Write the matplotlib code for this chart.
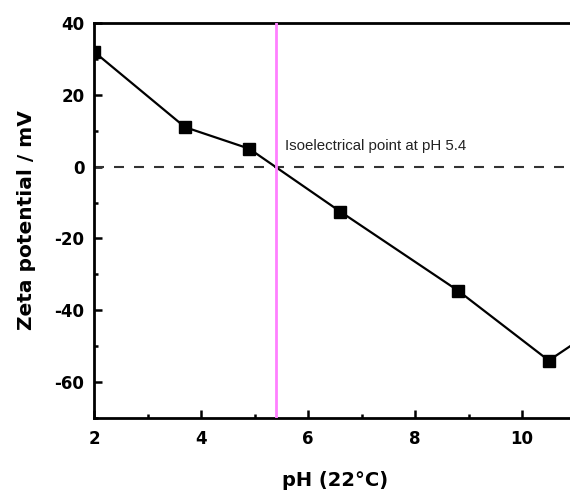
import matplotlib
matplotlib.use("Agg")
import matplotlib.pyplot as plt
from matplotlib.ticker import MultipleLocator, FixedLocator

plt.rcParams['font.family'] = ['DejaVu Sans']
plt.rcParams['axes.unicode_minus'] = False

# Zeta potential measurements vs pH
ph = [2.0, 3.7, 4.9, 6.6, 8.8, 10.5, 11.6]
zeta = [32, 11, 5, -12.5, -34.5, -54, -43]
iep = 5.4
xticks = [2, 4, 6, 8, 10]
yticks = [-60, -40, -20, 0, 20, 40]

fig = plt.figure(figsize=(5.7, 4.9), dpi=100)
ax = fig.add_axes([0.165, 0.147, 0.8447, 0.806])

ax.plot(ph, zeta, color='black', lw=1.6, marker='s', ms=9, zorder=3)
ax.axhline(0, color='#333333', lw=1.5, ls=(0, (4.8, 4.8)), zorder=2)
ax.axvline(iep, color='#ff80ff', lw=2.0, zorder=4)
ax.text(5.57, 4.6, 'Isoelectrical point at pH 5.4', fontsize=10.8,
        family='Liberation Sans', color='#222222', va='baseline', ha='left')

ax.set_xlim(2, 11)
ax.set_ylim(-70, 40)
ax.xaxis.set_major_locator(FixedLocator(xticks))
ax.xaxis.set_minor_locator(MultipleLocator(1))
ax.yaxis.set_major_locator(FixedLocator(yticks))
ax.yaxis.set_minor_locator(MultipleLocator(10))
ax.tick_params(which='both', direction='in', width=1.8, top=False, right=False)
ax.tick_params(which='major', length=6, labelsize=12, pad=7)
ax.tick_params(axis='x', which='major', pad=9)
ax.tick_params(which='minor', length=3.2)
for lab in ax.get_xticklabels() + ax.get_yticklabels():
    lab.set_fontweight('bold')
for s in ax.spines.values():
    s.set_linewidth(2.0)

ax.set_xlabel('pH (22°C)', fontsize=14, fontweight='bold', labelpad=16)
ax.set_ylabel('Zeta potential / mV', fontsize=14.5, fontweight='bold', labelpad=13)

fig.savefig('out.png', dpi=100)
